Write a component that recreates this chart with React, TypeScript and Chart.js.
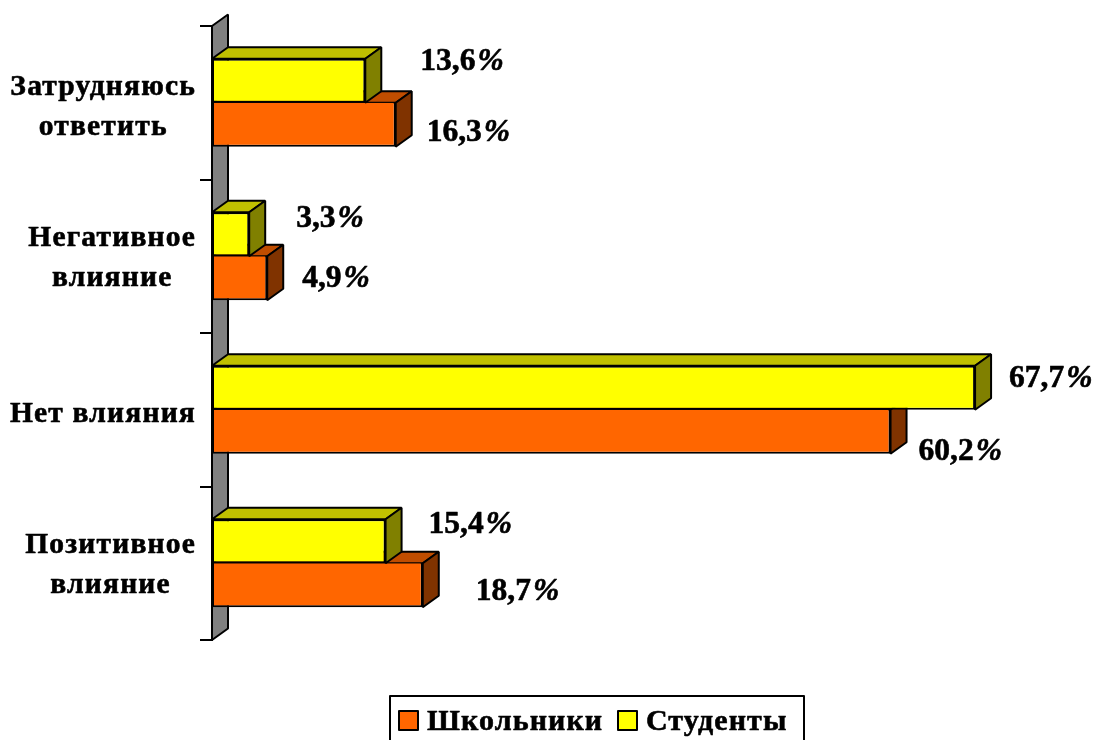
import React, { useEffect, useRef } from "react";
import { Chart, registerables } from "chart.js";

Chart.register(...registerables);

const categories: string[][] = [
  ["Затрудняюсь", "ответить"],
  ["Негативное", "влияние"],
  ["Нет влияния"],
  ["Позитивное", "влияние"],
];
const schoolchildren = [16.3, 4.9, 60.2, 18.7];
const students = [13.6, 3.3, 67.7, 15.4];
const schoolLabel = "Школьники";
const studentLabel = "Студенты";

// manual label placement [dx from bar end, dy from bar centre]
const studentOffsets = [[55, -19], [47, -15], [34, -9], [43, -16]];
const schoolOffsets = [[31, 8], [35, 1], [28, 20], [53, 7]];
// manual vertical nudge of each category label block
const categoryNudge = [5, 2, 5, 2.5];

const SERIF = '"Liberation Serif"';
const DX = 16;
const DY = -11.5;
const LEFT = 212;
const TEXT_FONT = `bold 29.5px ${SERIF}`;

const faceColors = [
  { top: "#C0C000", side: "#808000" },
  { top: "#C04D00", side: "#803300" },
];

function poly(ctx: CanvasRenderingContext2D, pts: number[][], fill: string, lw = 2) {
  ctx.beginPath();
  pts.forEach((p, i) => (i ? ctx.lineTo(p[0], p[1]) : ctx.moveTo(p[0], p[1])));
  ctx.closePath();
  ctx.fillStyle = fill;
  ctx.fill();
  ctx.lineWidth = lw;
  ctx.strokeStyle = "#000";
  ctx.lineJoin = "bevel";
  ctx.stroke();
}

function heavyText(ctx: CanvasRenderingContext2D, text: string, x: number, y: number) {
  ctx.lineWidth = 0.6;
  ctx.strokeStyle = "#000";
  ctx.lineJoin = "round";
  ctx.strokeText(text, x, y);
  ctx.fillText(text, x, y);
}

const box3d = {
  id: "box3d",
  beforeDatasetsDraw(chart: any) {
    const { ctx, chartArea: a } = chart;
    poly(
      ctx,
      [
        [a.left, a.top],
        [a.left + DX, a.top + DY],
        [a.left + DX, a.bottom + DY],
        [a.left, a.bottom],
      ],
      "#808080",
      2
    );
  },
  beforeDatasetDraw(chart: any, args: any) {
    const { ctx } = chart;
    const colors = faceColors[args.index];
    args.meta.data.forEach((bar: any) => {
      const p = bar.getProps(["x", "y", "base", "height"], true);
      const t = p.y - p.height / 2;
      const b = p.y + p.height / 2;
      poly(ctx, [[p.base, t], [p.base + DX, t + DY], [p.x + DX, t + DY], [p.x, t]], colors.top);
      poly(ctx, [[p.x, t], [p.x + DX, t + DY], [p.x + DX, b + DY], [p.x, b]], colors.side);
    });
  },
  afterDraw(chart: any) {
    const { ctx } = chart;
    ctx.save();
    ctx.textBaseline = "middle";
    ctx.fillStyle = "#000";

    // category labels: centred lines in a right-aligned block
    ctx.font = TEXT_FONT;
    ctx.letterSpacing = "1.2px";
    const yScale = chart.scales.y;
    categories.forEach((lines, i) => {
      const cy = yScale.getPixelForTick(i) + categoryNudge[i];
      const width = Math.max(...lines.map((l) => ctx.measureText(l).width));
      const cx = 196 - width / 2;
      ctx.textAlign = "center";
      lines.forEach((l, j) => {
        heavyText(ctx, l, cx, cy + (j - (lines.length - 1) / 2) * 40);
      });
    });
    ctx.letterSpacing = "0px";

    // value labels
    ctx.textAlign = "left";
    const offsets = [studentOffsets, schoolOffsets];
    chart.data.datasets.forEach((ds: any, di: number) => {
      chart.getDatasetMeta(di).data.forEach((bar: any, i: number) => {
        const text = String(ds.data[i]).replace(".", ",");
        const x = bar.x + offsets[di][i][0];
        const y = bar.y + offsets[di][i][1];
        ctx.font = `bold 31.5px ${SERIF}`;
        heavyText(ctx, text, x, y);
        const w = ctx.measureText(text).width;
        ctx.font = `italic bold 31.5px ${SERIF}`;
        heavyText(ctx, "%", x + w + 2, y);
      });
    });

    // legend box (runs off the bottom of the page)
    ctx.lineWidth = 2;
    ctx.strokeStyle = "#000";
    ctx.strokeRect(390, 696, 414, 60);
    ctx.font = `bold 30px ${SERIF}`;
    ctx.letterSpacing = "1.1px";
    const items = [chart.data.datasets[1], chart.data.datasets[0]];
    const swatchX = [399, 618];
    items.forEach((ds: any, i: number) => {
      ctx.lineWidth = 2;
      ctx.fillStyle = ds.backgroundColor;
      ctx.fillRect(swatchX[i], 711, 19, 19);
      ctx.strokeRect(swatchX[i], 711, 19, 19);
      ctx.fillStyle = "#000";
      heavyText(ctx, ds.label, swatchX[i] + 28, 722);
    });
    ctx.restore();
  },
};

export default function App() {
  const ref = useRef<HTMLCanvasElement>(null);
  useEffect(() => {
    const chart = new Chart(ref.current as HTMLCanvasElement, {
      type: "bar",
      data: {
        labels: categories.map((c) => c.join(" ")),
        datasets: [
          {
            label: studentLabel,
            data: students,
            backgroundColor: "#FFFF00",
            borderColor: "#000",
            borderWidth: 2,
            borderSkipped: false,
          },
          {
            label: schoolLabel,
            data: schoolchildren,
            backgroundColor: "#FF6600",
            borderColor: "#000",
            borderWidth: 2,
            borderSkipped: "top",
          },
        ],
      },
      options: {
        indexAxis: "y",
        animation: false,
        responsive: false,
        categoryPercentage: 0.573,
        barPercentage: 1,
        layout: { padding: { top: 26, bottom: 100, right: 96, left: 0 } },
        plugins: { legend: { display: false }, tooltip: { enabled: false }, title: { display: false } },
        scales: {
          x: { display: false, min: 0, max: 70 },
          y: {
            afterFit(scale: any) {
              scale.width = LEFT;
            },
            ticks: { display: false },
            grid: { display: true, drawOnChartArea: false, drawTicks: true, tickLength: 12, color: "#000", lineWidth: 2 },
            border: { display: true, color: "#000", width: 2 },
          },
        },
      } as any,
      plugins: [box3d],
    });
    return () => chart.destroy();
  }, []);
  return (
    <div style={{ position: "fixed", left: 0, top: 0, width: 1097, height: 740, overflow: "hidden", background: "#fff" }}>
      <canvas ref={ref} width={1097} height={740} style={{ display: "block" }} />
    </div>
  );
}
